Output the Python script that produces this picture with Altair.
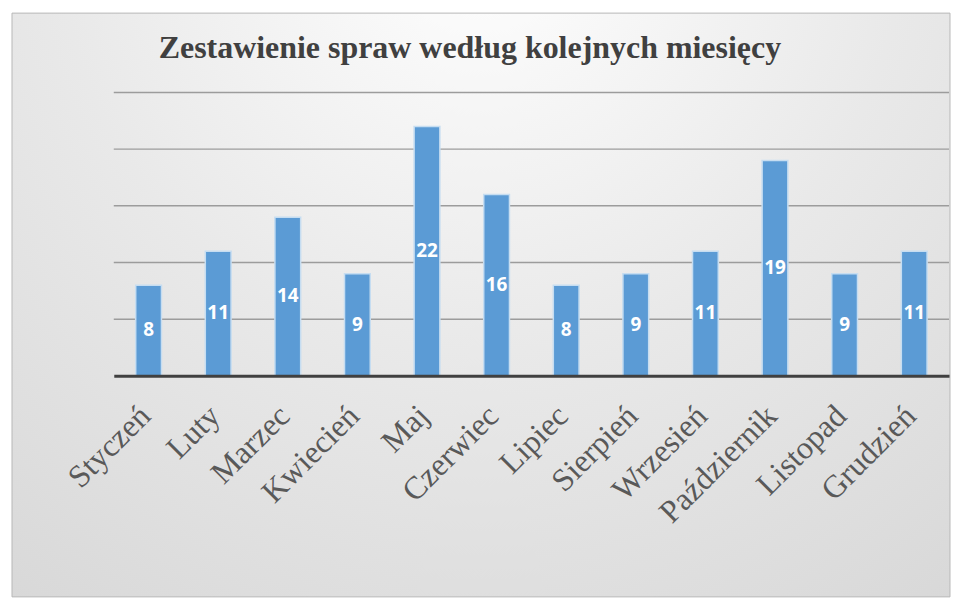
import altair as alt
import pandas as pd

months = ["Styczeń", "Luty", "Marzec", "Kwiecień", "Maj", "Czerwiec",
          "Lipiec", "Sierpień", "Wrzesień", "Październik", "Listopad", "Grudzień"]
counts = [8, 11, 14, 9, 22, 16, 8, 9, 11, 19, 9, 11]
grid_values = [5, 10, 15, 20, 25]
title_text = "Zestawienie spraw według kolejnych miesięcy"

W, H = 837, 284

df = pd.DataFrame({"miesiac": months, "liczba": counts})
df["srodek"] = df["liczba"] / 2
grid_df = pd.DataFrame({"g": grid_values})
bg_df = pd.DataFrame({"a": [0]})

yscale = alt.Scale(domain=[0, 25], nice=False)
xscale = alt.Scale(paddingInner=0.63, paddingOuter=0.315)

xaxis = alt.Axis(title=None, labelAngle=-45, labelAlign="right",
                 labelBaseline="top", labelFont="Liberation Serif",
                 labelFontSize=32, labelColor="#595959",
                 labelPadding=24, labelOffset=-14, labelLimit=400,
                 labelOverlap=False, ticks=False, grid=False,
                 domainColor="#404040", domainWidth=3, zindex=1)

gradient = {
    "gradient": "radial",
    "x1": 0.5, "y1": 0.1, "r1": 0,
    "x2": 0.5, "y2": 0.1, "r2": 1.0,
    "stops": [
        {"offset": 0, "color": "#ffffff"},
        {"offset": 0.45, "color": "#e9e9e9"},
        {"offset": 0.9, "color": "#d7d7d7"},
        {"offset": 1, "color": "#cbcbcb"},
    ],
}

bg = alt.Chart(bg_df).mark_rect(fill=gradient, stroke="#b8b8b8", strokeWidth=1).encode(
    x=alt.value(-102), x2=alt.value(838), y=alt.value(-79.5), y2=alt.value(505.5)
)

grid = alt.Chart(grid_df).mark_rule(color="#9c9c9c", strokeWidth=1.5).encode(
    y=alt.Y("g:Q", scale=yscale, axis=None)
)

bars = alt.Chart(df).mark_bar(
    fill="#5b9bd5", stroke="#c6ddf1", strokeWidth=1.5
).encode(
    x=alt.X("miesiac:N", sort=months, scale=xscale, axis=xaxis),
    y=alt.Y("liczba:Q", scale=yscale, axis=None),
)

labels = alt.Chart(df).mark_text(
    color="white", font="Open Sans", fontWeight="bold", fontSize=19, baseline="middle"
).encode(
    x=alt.X("miesiac:N", sort=months, scale=xscale, axis=xaxis),
    y=alt.Y("srodek:Q", scale=yscale, axis=None),
    text=alt.Text("liczba:Q"),
)

chart = alt.layer(bg, grid, bars, labels).properties(
    width=W, height=H,
    padding={"left": 3, "top": 4, "right": 3, "bottom": 1},
    title=alt.TitleParams(title_text, font="Liberation Serif", fontSize=32,
                          fontWeight="bold", color="#404040", anchor="start",
                          frame="group", dx=45, offset=-52),
).configure_view(stroke=None).configure(background="white")

chart.save("out.html", embed_options={"renderer": "svg", "actions": False})
